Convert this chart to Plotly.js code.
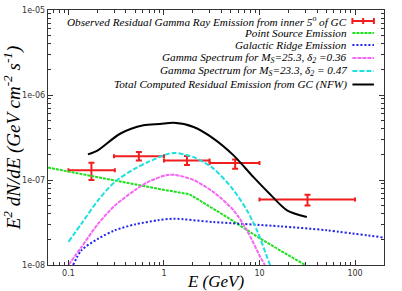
<!DOCTYPE html>
<html>
<head>
<meta charset="utf-8">
<script src="https://cdn.plot.ly/plotly-3.0.1.min.js"></script>
<style>html,body{margin:0;padding:0;background:#fff;}#chart{width:402px;height:291px;}</style>
</head>
<body>
<div id="chart"></div>
<script>
// ---- data ----
const obsE      = [0.174, 0.546, 1.74, 5.56, 31.8];
const obsElo    = [0.1, 0.3, 1.0, 3.0, 10];
const obsEhi    = [0.306, 1.0, 3.0, 10, 100];
const obsFlux   = [1.3e-7, 1.9e-7, 1.7e-7, 1.58e-7, 5.9e-8];
const obsFluxLo = [1.0e-7, 1.7e-7, 1.5e-7, 1.36e-7, 5.0e-8];
const obsFluxHi = [1.6e-7, 2.13e-7, 1.92e-7, 1.74e-7, 6.7e-8];

const psE    = [0.0611, 0.306, 0.91, 1.85, 4.55, 10.2, 30];
const psFlux = [1.4e-7, 9.8e-8, 7.8e-8, 6.8e-8, 3.67e-8, 2.04e-8, 1e-8];

const grE    = [0.112, 0.137, 0.205, 0.306, 0.496, 0.87, 1.26, 3.3, 16.5, 50.8, 201];
const grFlux = [1e-8, 1.49e-8, 2.04e-8, 2.56e-8, 3.0e-8, 3.36e-8, 3.5e-8, 3.2e-8, 2.85e-8, 2.56e-8, 2.1e-8];

const dm1E    = [0.1, 0.137, 0.205, 0.306, 0.496, 0.684, 1.06, 1.3, 2.04, 3.3, 5.35, 7.38, 10.2, 11.4];
const dm1Flux = [1e-8, 1.63e-8, 3.07e-8, 5.0e-8, 7.6e-8, 9.5e-8, 1.14e-7, 1.15e-7, 1.0e-7, 7.2e-8, 4.4e-8, 2.56e-8, 1.24e-8, 1e-8];

const dm2E    = [0.1, 0.137, 0.205, 0.306, 0.496, 0.684, 1.06, 1.3, 2.04, 3.3, 5.35, 7.38, 9.4, 12, 12.9];
const dm2Flux = [1.87e-8, 3.07e-8, 5.8e-8, 9.5e-8, 1.36e-7, 1.63e-7, 2.0e-7, 2.08e-7, 1.86e-7, 1.36e-7, 7.6e-8, 4.4e-8, 2.56e-8, 1.24e-8, 1e-8];

const totE    = [0.16, 0.205, 0.347, 0.61, 0.91, 1.26, 2.04, 3.3, 5.35, 8.65, 12.9, 19.4, 31.3];
const totFlux = [2.0e-7, 2.25e-7, 3.5e-7, 4.4e-7, 4.55e-7, 4.7e-7, 4.2e-7, 3.07e-7, 1.95e-7, 1.08e-7, 6.8e-8, 4.4e-8, 3.67e-8];

const seriesNames = [
  'Observed Residual Gamma Ray Emission from inner 5<sup>o</sup> of GC',
  'Point Source Emission',
  'Galactic Ridge Emission',
  'Gamma Spectrum for M<sub>S</sub>=25.3, \u03b4<sub>2</sub> =0.36',
  'Gamma Spectrum for M<sub>S</sub>=23.3, \u03b4<sub>2</sub> = 0.47',
  'Total Computed Residual Emission from GC (NFW)'
];

const xTickVals = [0.1, 1, 10, 100];
const xTickText = ['0.1', '1', '10', '100'];
const yTickVals = [1e-8, 1e-7, 1e-6, 1e-5];
const yTickText = ['1e-08', '1e-07', '1e-06', '1e-05'];

// ---- styles ----
const colors = ['#f01e1e', '#1ee01e', '#2222ee', '#f466f4', '#1ee0e0', '#000000'];
const dashes = ['solid', '3px,1px', '2px,2px', '4px,1px', '5px,2px', 'solid'];
const widths = [2, 2, 2, 2, 2, 2];

const traces = [
  {
    x: obsE, y: obsFlux, type: 'scatter', mode: 'markers',
    marker: {size: 1, color: colors[0]},
    error_x: {type: 'data', symmetric: false,
      array: obsE.map((v, i) => obsEhi[i] - v),
      arrayminus: obsE.map((v, i) => v - obsElo[i]),
      color: colors[0], thickness: 2, width: 2},
    error_y: {type: 'data', symmetric: false,
      array: obsFlux.map((v, i) => obsFluxHi[i] - v),
      arrayminus: obsFlux.map((v, i) => v - obsFluxLo[i]),
      color: colors[0], thickness: 2, width: 3},
    showlegend: false, hoverinfo: 'skip'
  },
  {x: psE, y: psFlux, mode: 'lines', line: {color: colors[1], dash: dashes[1], width: widths[1]}},
  {x: grE, y: grFlux, mode: 'lines', line: {color: colors[2], dash: dashes[2], width: widths[2], shape: 'spline', smoothing: 0.8}},
  {x: dm1E, y: dm1Flux, mode: 'lines', line: {color: colors[3], dash: dashes[3], width: widths[3], shape: 'spline', smoothing: 0.8}},
  {x: dm2E, y: dm2Flux, mode: 'lines', line: {color: colors[4], dash: dashes[4], width: widths[4], shape: 'spline', smoothing: 0.8}},
  {x: totE, y: totFlux, mode: 'lines', line: {color: colors[5], dash: dashes[5], width: widths[5], shape: 'spline', smoothing: 0.8}}
];
traces.forEach(t => { t.type = 'scatter'; t.showlegend = false; t.hoverinfo = 'skip'; });

// minor tick positions
function minorVals(lo, hi) {
  const out = [];
  for (let e = lo; e <= hi; e++) for (let d = 2; d <= 9; d++) out.push(d * Math.pow(10, e));
  return out;
}

// manual legend (text right-aligned, sample on the right)
const legYpx = [21, 33, 45, 58, 71, 84.5];
const plotTop = 10, plotBot = 265;
const toPaperY = p => (plotBot - p) / (plotBot - plotTop);
const annotations = [];
const shapes = [];
const txtX = 0.893, s0 = 0.906, s1 = 0.97;
seriesNames.forEach((name, i) => {
  const yp = toPaperY(legYpx[i]);
  annotations.push({
    xref: 'paper', yref: 'paper', x: txtX, y: yp, xanchor: 'right', yanchor: 'middle',
    text: '<i>' + name + '</i>', showarrow: false, borderpad: 0,
    font: {family: 'Liberation Serif, Times New Roman, serif', size: 11.2, color: '#000'}
  });
  shapes.push({type: 'line', xref: 'paper', yref: 'paper', x0: s0, x1: s1, y0: yp, y1: yp,
    line: {color: colors[i], width: widths[i], dash: dashes[i]}});
  if (i === 0) {
    const h = 3 / (plotBot - plotTop);
    [s0, (s0 + s1) / 2, s1].forEach(xx => shapes.push({type: 'line', xref: 'paper', yref: 'paper',
      x0: xx, x1: xx, y0: yp - h, y1: yp + h, line: {color: colors[0], width: 2}}));
  }
});

const axisCommon = {
  type: 'log', showgrid: false, zeroline: false, showline: true, mirror: 'allticks',
  linecolor: '#333', linewidth: 1.2, ticks: 'inside', ticklen: 5, tickwidth: 1, tickcolor: '#333',
  tickfont: {family: 'DejaVu Sans, sans-serif', size: 8, color: '#333'}, automargin: false
};

const layout = {
  width: 402, height: 291,
  margin: {l: 48, r: 18, t: 10, b: 26},
  paper_bgcolor: '#fff', plot_bgcolor: '#fff',
  showlegend: false,
  xaxis: Object.assign({}, axisCommon, {
    range: [Math.log10(0.0611), Math.log10(201)],
    tickmode: 'array', tickvals: xTickVals, ticktext: xTickText,
    minor: {ticks: 'inside', ticklen: 3, tickcolor: '#333', tickvals: minorVals(-2, 2), showgrid: false},
    title: {text: '<i>E (GeV)</i>', standoff: 2,
      font: {family: 'Liberation Serif, Times New Roman, serif', size: 17, color: '#000'}}
  }),
  yaxis: Object.assign({}, axisCommon, {
    range: [-8, -5],
    tickmode: 'array', tickvals: yTickVals, ticktext: yTickText,
    minor: {ticks: 'inside', ticklen: 3, tickcolor: '#333', tickvals: minorVals(-9, -5), showgrid: false},
    title: {text: '<i>E<sup>2</sup> dN/dE (GeV cm<sup>-2</sup> s<sup>-1</sup>)</i>', standoff: 5,
      font: {family: 'Liberation Serif, Times New Roman, serif', size: 19, color: '#000'}}
  }),
  annotations: annotations,
  shapes: shapes
};

Plotly.newPlot('chart', traces, layout, {staticPlot: true, displayModeBar: false});
</script>
</body>
</html>
